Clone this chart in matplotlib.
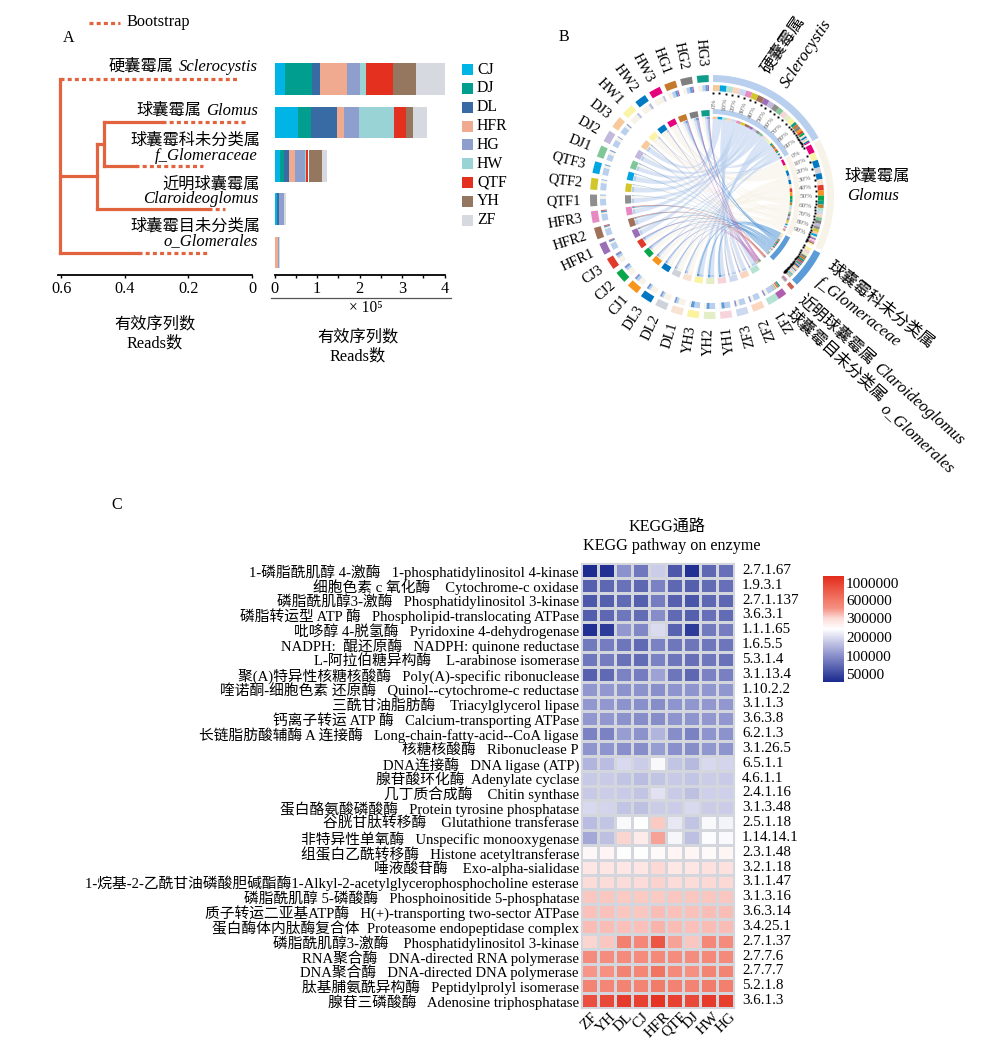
#!/usr/bin/env python3

import numpy as np
import matplotlib
matplotlib.use('Agg')
import matplotlib.pyplot as plt
from matplotlib.colors import FuncNorm, LinearSegmentedColormap
from matplotlib.patches import PathPatch
from matplotlib.path import Path

plt.rcParams['font.family'] = ['Liberation Serif', 'Noto Sans CJK SC']
plt.rcParams['axes.unicode_minus'] = False

# panel A
groups = ['CJ', 'DJ', 'DL', 'HFR', 'HG', 'HW', 'QTF', 'YH', 'ZF']
group_colors = ['#00b4e6', '#009e8e', '#386ba3', '#f0aa90', '#8f9fcd',
                '#99d3d6', '#e4301f', '#957760', '#d6d9e0']
# reads / 1e5, rows follow the genera top to bottom
reads_scl = [0.245, 0.63, 0.19, 0.645, 0.30, 0.14, 0.645, 0.545, 0.69]
reads_glo = [0.55, 0.30, 0.62, 0.16, 0.36, 0.83, 0.27, 0.165, 0.33]
reads_fgl = [0.14, 0.08, 0.13, 0.14, 0.22, 0.02, 0.07, 0.315, 0.12]
reads_cla = [0.05, 0.02, 0.03, 0.005, 0.11, 0.015, 0.0, 0.005, 0.045]
reads_ogl = [0.005, 0.0, 0.0, 0.08, 0.01, 0.02, 0.0, 0.0, 0.015]

# tree branches: (distance start, distance end, row) solid and dotted parts
tree_solid = [(0.605, 0.487, 2.23), (0.487, 0.465, 1.5), (0.465, 0.282, 1.0),
              (0.465, 0.368, 2.0), (0.487, 0.138, 3.0), (0.605, 0.358, 4.0)]
tree_dotted = [(0.605, 0.047, 0.0), (0.282, 0.012, 1.0), (0.368, 0.154, 2.0),
               (0.138, 0.085, 3.0), (0.358, 0.138, 4.0)]
tree_vertical = [(0.605, 0.0, 4.0), (0.487, 1.5, 3.0), (0.465, 1.0, 2.0)]

# panel B, samples clockwise-reversed from the top
samples = ['HG3', 'HG2', 'HG1', 'HW3', 'HW2', 'HW1', 'DJ3', 'DJ2', 'DJ1',
           'QTF3', 'QTF2', 'QTF1', 'HFR3', 'HFR2', 'HFR1', 'CJ3', 'CJ2', 'CJ1',
           'DL3', 'DL2', 'DL1', 'YH3', 'YH2', 'YH1', 'ZF3', 'ZF2', 'ZF1']
sample_colors = ['#0f9d8a', '#7f7f7f', '#c47a2c', '#e6007e', '#0079c2', '#fbf3a5',
                 '#f7c99b', '#c3b9dc', '#7fc797', '#00a5e3', '#d2c72a', '#8e8e8e',
                 '#e78ac3', '#a0705a', '#9b6fb8', '#df3a2c', '#0aa64b', '#f7941d',
                 '#0077c0', '#cfd2da', '#f8e2d2', '#fbf3a0', '#e3eec7', '#f7d3dc',
                 '#ccd9ee', '#fad5c0', '#b5e3d3']
# reads / 1e4 per sample
chord_scl = [1.0, 1.0, 1.0, 0.4, 0.5, 0.5, 2.4, 2.0, 1.9, 2.3, 2.2, 1.95, 2.2, 2.2,
             2.05, 0.8, 0.8, 0.85, 0.6, 0.6, 0.7, 1.8, 1.8, 1.85, 2.3, 2.3, 2.3]
chord_glo = [1.3, 1.1, 1.2, 3.0, 2.6, 2.7, 0.9, 1.0, 1.1, 0.8, 0.9, 1.0, 0.5, 0.5,
             0.6, 1.9, 1.8, 1.8, 2.1, 2.1, 2.0, 0.5, 0.6, 0.55, 1.1, 1.1, 1.1]
chord_fgl = [0.7, 0.8, 0.7, 0.05, 0.1, 0.05, 0.3, 0.2, 0.3, 0.3, 0.2, 0.2, 0.5, 0.4,
             0.5, 0.5, 0.5, 0.4, 0.5, 0.4, 0.4, 1.1, 1.0, 1.05, 0.4, 0.4, 0.4]
chord_ogl = [0.0, 0.05, 0.05, 0.05, 0.1, 0.05, 0.0, 0.0, 0.0, 0.0, 0.0, 0.0, 0.3, 0.3,
             0.2, 0.02, 0.02, 0.01, 0.0, 0.0, 0.0, 0.0, 0.0, 0.0, 0.05, 0.05, 0.05]
chord_cla = [0.4, 0.35, 0.35, 0.05, 0.05, 0.05, 0.1, 0.05, 0.05, 0.0, 0.0, 0.0, 0.02, 0.02,
             0.01, 0.2, 0.15, 0.15, 0.1, 0.1, 0.1, 0.02, 0.02, 0.01, 0.15, 0.15, 0.15]
genus_colors = ['#b9cfee', '#f8f3e8', '#5b9bd8', '#cd6155', '#b05fb0']
genus_start = [0.5, 62.0, 117.4, 137.5, 142.5]
percent_labels = ['0%', '10%', '20%', '30%', '40%', '50%', '60%', '70%', '80%', '90%']

# panel C
pathways = [
    '1-磷脂酰肌醇 4-激酶   1-phosphatidylinositol 4-kinase',
    '细胞色素 c 氧化酶    Cytochrome-c oxidase',
    '磷脂酰肌醇3-激酶   Phosphatidylinositol 3-kinase',
    '磷脂转运型 ATP 酶   Phospholipid-translocating ATPase',
    '吡哆醇 4-脱氢酶   Pyridoxine 4-dehydrogenase',
    'NADPH:  醌还原酶   NADPH: quinone reductase',
    'L-阿拉伯糖异构酶    L-arabinose isomerase',
    '聚(A)特异性核糖核酸酶   Poly(A)-specific ribonuclease',
    '喹诺酮-细胞色素 还原酶   Quinol--cytochrome-c reductase',
    '三酰甘油脂肪酶    Triacylglycerol lipase',
    '钙离子转运 ATP 酶   Calcium-transporting ATPase',
    '长链脂肪酸辅酶 A 连接酶   Long-chain-fatty-acid--CoA ligase',
    '核糖核酸酶   Ribonuclease P',
    'DNA连接酶   DNA ligase (ATP)',
    '腺苷酸环化酶  Adenylate cyclase',
    '几丁质合成酶    Chitin synthase',
    '蛋白酪氨酸磷酸酶   Protein tyrosine phosphatase',
    '谷胱甘肽转移酶    Glutathione transferase',
    '非特异性单氧酶   Unspecific monooxygenase',
    '组蛋白乙酰转移酶   Histone acetyltransferase',
    '唾液酸苷酶    Exo-alpha-sialidase',
    '1-烷基-2-乙酰甘油磷酸胆碱酯酶1-Alkyl-2-acetylglycerophosphocholine esterase',
    '磷脂酰肌醇 5-磷酸酶   Phosphoinositide 5-phosphatase',
    '质子转运二亚基ATP酶   H(+)-transporting two-sector ATPase',
    '蛋白酶体内肽酶复合体  Proteasome endopeptidase complex',
    '磷脂酰肌醇3-激酶    Phosphatidylinositol 3-kinase',
    'RNA聚合酶   DNA-directed RNA polymerase',
    'DNA聚合酶   DNA-directed DNA polymerase',
    '肽基脯氨酰异构酶   Peptidylprolyl isomerase',
    '腺苷三磷酸酶   Adenosine triphosphatase',
]
ec_numbers = ['2.7.1.67', '1.9.3.1', '2.7.1.137', '3.6.3.1', '1.1.1.65', '1.6.5.5',
              '5.3.1.4', '3.1.13.4', '1.10.2.2', '3.1.1.3', '3.6.3.8', '6.2.1.3',
              '3.1.26.5', '6.5.1.1', '4.6.1.1', '2.4.1.16', '3.1.3.48', '2.5.1.18',
              '1.14.14.1', '2.3.1.48', '3.2.1.18', '3.1.1.47', '3.1.3.16', '3.6.3.14',
              '3.4.25.1', '2.7.1.37', '2.7.7.6', '2.7.7.7', '5.2.1.8', '3.6.1.3']
heat_columns = ['ZF', 'YH', 'DL', 'CJ', 'HFR', 'QTF', 'DJ', 'HW', 'HG']
# thousands of reads
heat_values = [
    [32, 35, 105, 85, 180, 62, 35, 72, 78],
    [68, 72, 80, 72, 92, 72, 66, 76, 78],
    [62, 66, 74, 66, 88, 68, 60, 72, 72],
    [65, 72, 84, 76, 100, 74, 66, 78, 76],
    [35, 42, 112, 95, 200, 70, 42, 86, 88],
    [86, 88, 82, 75, 92, 84, 82, 84, 82],
    [84, 88, 80, 76, 92, 82, 78, 84, 80],
    [68, 74, 92, 88, 125, 82, 72, 92, 90],
    [110, 112, 105, 105, 102, 108, 108, 110, 110],
    [112, 112, 105, 102, 100, 108, 110, 112, 112],
    [112, 112, 105, 100, 100, 108, 108, 112, 112],
    [92, 92, 118, 105, 150, 100, 92, 108, 105],
    [108, 108, 102, 100, 118, 104, 100, 110, 108],
    [150, 160, 195, 180, 235, 170, 155, 195, 190],
    [175, 178, 170, 160, 168, 175, 172, 180, 178],
    [175, 180, 178, 170, 205, 178, 165, 185, 185],
    [195, 190, 170, 165, 180, 180, 195, 180, 180],
    [160, 172, 238, 243, 340, 215, 170, 235, 228],
    [135, 165, 310, 275, 430, 232, 165, 240, 238],
    [255, 260, 245, 243, 250, 260, 258, 250, 258],
    [285, 285, 285, 285, 305, 280, 285, 290, 290],
    [300, 300, 300, 300, 320, 300, 300, 305, 305],
    [345, 345, 340, 340, 340, 345, 345, 345, 345],
    [360, 360, 350, 350, 370, 360, 360, 370, 370],
    [370, 365, 360, 360, 390, 370, 360, 370, 370],
    [310, 345, 560, 520, 850, 430, 350, 520, 490],
    [490, 480, 490, 490, 510, 480, 480, 510, 500],
    [460, 470, 540, 530, 640, 500, 470, 540, 540],
    [540, 530, 540, 540, 590, 550, 540, 590, 560],
    [900, 950, 1100, 1000, 1250, 1000, 950, 1100, 1050],
]
scale_ticks = [50000, 100000, 200000, 300000, 600000, 1000000]

W, H = 1000, 1050
TREE_COLOR = '#e2643f'
DOTS = (1.25, 1.0)
fig = plt.figure(figsize=(W / 100, H / 100), dpi=100)


def px_axes(left, top, right, bottom):
    return fig.add_axes([left / W, 1 - bottom / H, (right - left) / W, (bottom - top) / H])


# overlay in pixel coordinates for free text and the circular panel
over = fig.add_axes([0, 0, 1, 1])
over.set_xlim(0, W)
over.set_ylim(H, 0)
over.axis('off')

for letter, x, y in [('A', 69, 38), ('B', 564, 37), ('C', 117, 505)]:
    over.text(x, y, letter, fontsize=11.5, ha='center', va='center')

# ---- A: tree
tree = px_axes(58, 60, 252, 275)
tree.set_xlim(0.61, 0)
tree.set_ylim(4.516, -0.438)
for x0, x1, row in tree_solid:
    tree.plot([x0, x1], [row, row], color=TREE_COLOR, lw=2.3, solid_capstyle='projecting')
for x0, row0, row1 in tree_vertical:
    tree.plot([x0, x0], [row0, row1], color=TREE_COLOR, lw=2.3, solid_capstyle='projecting')
for x0, x1, row in tree_dotted:
    tree.plot([x0, x1], [row, row], color=TREE_COLOR, lw=2.3, dashes=DOTS, dash_capstyle='butt')
for side in ['top', 'left', 'right']:
    tree.spines[side].set_visible(False)
tree.spines['bottom'].set_linewidth(1.3)
tree.set_yticks([])
tree.set_xticks([0.6, 0.4, 0.2, 0])
tree.set_xticklabels(['0.6', '0.4', '0.2', '0'], fontsize=11.7)
tree.tick_params(axis='x', length=2.5, width=1, pad=1.5)
tree.patch.set_alpha(0)

over.plot([89, 120], [23, 23], color=TREE_COLOR, lw=2.3, dashes=DOTS, dash_capstyle='butt')
over.text(126, 22, 'Bootstrap', fontsize=11.7, va='center')

taxa = [('硬囊霉属', 174, 67), ('Sclerocystis', 258, 67), ('球囊霉属', 201, 111), ('Glomus', 258, 111),
        ('球囊霉科未分类属', 260, 141), ('f_Glomeraceae', 258, 156),
        ('近明球囊霉属', 260, 185), ('Claroideoglomus', 258, 199),
        ('球囊霉目未分类属', 260, 227), ('o_Glomerales', 258, 241)]
for label, x, y in taxa:
    if label.isascii():
        over.text(x, y, label, fontsize=12, ha='right', va='center', style='italic')
    else:
        over.text(x, y, label, fontsize=11.7, ha='right', va='center')

for x, y in [(155, 324), (358, 337)]:
    over.text(x, y, '有效序列数', fontsize=11.7, ha='center', va='center')
    over.text(x, y + 19, 'Reads数', fontsize=11.7, ha='center', va='center')

# ---- A: stacked bars
bars = px_axes(274.5, 60, 444.5, 275)
reads = np.array([reads_scl, reads_glo, reads_fgl, reads_cla, reads_ogl])
rows = np.arange(len(reads))
left = np.zeros(len(reads))
for j, group in enumerate(groups):
    bars.barh(rows, reads[:, j], height=0.726, left=left, color=group_colors[j])
    left += reads[:, j]
bars.set_xlim(0, 4)
bars.set_ylim(4.516, -0.438)
for side in ['top', 'left', 'right']:
    bars.spines[side].set_visible(False)
bars.spines['bottom'].set_linewidth(1.3)
bars.set_yticks([])
bars.set_xticks([0, 1, 2, 3, 4])
bars.set_xticks(np.arange(0.5, 4, 1), minor=True)
bars.tick_params(axis='x', which='both', length=2.5, width=1, pad=2, labelsize=11.7)
over.plot([271, 451], [298, 298], color='#555555', lw=0.9)
over.text(366, 308, '× 10⁵', fontsize=11.2, ha='center', va='center')

for j, group in enumerate(groups):
    y = 69.5 + 18.85 * j
    over.fill([462, 473, 473, 462], [y - 5.5, y - 5.5, y + 5.5, y + 5.5], color=group_colors[j], lw=0)
    over.text(477, y, group, fontsize=11.3, va='center')

# ---- B: chord diagram
CX, CY = 712, 197
R_BAND = (115, 122)
R_ROW2 = (106, 112)
R_DOT = 104
R_RING = (81, 87)
R_STRIPE = (78, 80.5)
R_CHORD = 78
DEG_PER_E4 = 1.5
SAMPLE_STEP = 7.93
SAMPLE_FIRST = -4.4
SAMPLE_WIDTH = 5.6


def polar(r, deg):
    t = np.radians(deg)
    return CX + r * np.sin(t), CY - r * np.cos(t)


def arc_block(r0, r1, d0, d1, color, zorder=3):
    t = np.linspace(d0, d1, max(3, int(abs(d1 - d0)) + 2))
    x0, y0 = polar(r0, t)
    x1, y1 = polar(r1, t[::-1])
    over.fill(np.r_[x0, x1], np.r_[y0, y1], color=color, lw=0, zorder=zorder)


def chord(a0, a1, b0, b1, color, alpha, zorder):
    ta = np.linspace(a0, a1, 5)
    tb = np.linspace(b0, b1, 5)
    xa, ya = polar(R_CHORD, ta)
    xb, yb = polar(R_CHORD, tb)
    verts = list(zip(xa, ya))
    codes = [Path.MOVETO] + [Path.LINETO] * 4
    verts += [(CX, CY), (xb[0], yb[0])]
    codes += [Path.CURVE3, Path.CURVE3]
    verts += list(zip(xb[1:], yb[1:]))
    codes += [Path.LINETO] * 4
    verts += [(CX, CY), (xa[0], ya[0])]
    codes += [Path.CURVE3, Path.CURVE3]
    over.add_patch(PathPatch(Path(verts, codes), facecolor=color, edgecolor='none',
                             alpha=alpha, zorder=zorder))


matrix = np.array([chord_scl, chord_glo, chord_fgl, chord_ogl, chord_cla])
totals = matrix.sum(axis=0)
centers = SAMPLE_FIRST - SAMPLE_STEP * np.arange(len(samples))
chord_styles = [(0.55, 2.1), (0.6, 2.0), (0.6, 2.3), (0.75, 2.5), (0.75, 2.6)]

for i, name in enumerate(samples):
    d0 = centers[i] - SAMPLE_WIDTH / 2
    d1 = centers[i] + SAMPLE_WIDTH / 2
    arc_block(R_BAND[0], R_BAND[1], d0, d1, sample_colors[i])
    arc_block(R_RING[0], R_RING[1], d0, d1, sample_colors[i])
    x, y = polar(131, centers[i])
    over.text(x, y, name, fontsize=10.4, ha='right', va='center',
              rotation=-90 - centers[i], rotation_mode='anchor')

genus_edges = []
for g in range(len(matrix)):
    width = matrix[g].sum() * DEG_PER_E4
    arc_block(R_BAND[0], R_BAND[1], genus_start[g], genus_start[g] + width, genus_colors[g])
    if g < 3:
        arc_block(R_RING[0] + 2, R_RING[1] + 1, genus_start[g], genus_start[g] + width, genus_colors[g])
    cursor = genus_start[g]
    edges = {}
    for i in np.argsort(-matrix[g]):
        step = matrix[g][i] * DEG_PER_E4
        if step == 0:
            continue
        arc_block(R_ROW2[0], R_ROW2[1], cursor, cursor + step, sample_colors[i])
        arc_block(R_STRIPE[0], R_STRIPE[1], cursor, cursor + step, sample_colors[i])
        if g < 3:
            dx, dy = polar(R_DOT, cursor)
            over.plot(dx, dy, 's', color='black', ms=1.4, mew=0, zorder=4)
        edges[i] = (cursor, cursor + step)
        cursor += step
    genus_edges.append(edges)
    if g < 2:
        for k, label in enumerate(percent_labels):
            deg = genus_start[g] + width * k / 10
            px, py = polar(94, deg + 1)
            over.text(px, py, label, fontsize=5.2, color='#666666', ha='center', va='center',
                      rotation=90 - deg, rotation_mode='anchor')

# outer rows per sample, chords on the inner side
for i in range(len(samples)):
    cursor = centers[i] - SAMPLE_WIDTH / 2
    for g in np.argsort(-matrix[:, i]):
        step = matrix[g][i] / totals[i] * SAMPLE_WIDTH
        if step == 0:
            continue
        arc_block(R_ROW2[0], R_ROW2[1], cursor, cursor + step, genus_colors[g])
        arc_block(R_STRIPE[0], R_STRIPE[1], cursor, cursor + step, genus_colors[g])
        b0, b1 = genus_edges[g][i]
        alpha, zorder = chord_styles[g]
        chord(cursor, cursor + step, b0, b1, genus_colors[g], alpha, zorder)
        cursor += step

over.text(783, 45, '硬囊霉属', fontsize=11.8, rotation=56, ha='center', va='center')
over.text(806, 54, 'Sclerocystis', fontsize=12, style='italic', rotation=56, ha='center', va='center')
over.text(877, 177, '球囊霉属', fontsize=11.8, ha='center', va='center')
over.text(873, 196, 'Glomus', fontsize=12, style='italic', ha='center', va='center')
over.text(880, 305, '球囊霉科未分类属', fontsize=11.8, rotation=-38, ha='center', va='center')
over.text(858, 312, 'f_Glomeraceae', fontsize=12, style='italic', rotation=-38, ha='center', va='center')
over.text(800, 298, '近明球囊霉属', fontsize=11.6, rotation=-41.5, ha='left', va='center', rotation_mode='anchor')
over.text(875, 366, 'Claroideoglomus', fontsize=12, style='italic', rotation=-41.5, ha='left', va='center',
          rotation_mode='anchor')
over.text(788, 312, '球囊霉目未分类属', fontsize=11.6, rotation=-42.5, ha='left', va='center', rotation_mode='anchor')
over.text(882, 407, 'o_Glomerales', fontsize=12, style='italic', rotation=-42.5, ha='left', va='center',
          rotation_mode='anchor')

# ---- C: heatmap
knots = [30000, 50000, 100000, 200000, 300000, 600000, 1000000, 1400000]
knot_pos = [0, 0.075, 0.245, 0.425, 0.60, 0.77, 0.934, 1]
norm = FuncNorm((lambda v: np.interp(v, knots, knot_pos), lambda p: np.interp(p, knot_pos, knots)),
                vmin=knots[0], vmax=knots[-1])
cmap = LinearSegmentedColormap.from_list('reads', [
    (0, '#1a2a8e'), (0.25, '#8a90cb'), (0.425, '#dcdcf0'), (0.5, '#ffffff'),
    (0.6, '#fcdcd8'), (0.7, '#f58e80'), (0.77, '#f27a68'), (1, '#e32b1c')])

heat = px_axes(581, 563, 734, 1008)
mesh = heat.pcolormesh(np.array(heat_values) * 1000, cmap=cmap, norm=norm,
                       edgecolors='#d3d6dc', linewidth=1.0)
heat.set_ylim(len(pathways), 0)
heat.set_yticks(np.arange(len(pathways)) + 0.5)
heat.set_yticklabels(pathways, fontsize=10.6)
heat.set_xticks(np.arange(len(heat_columns)) + 0.5)
heat.set_xticklabels(heat_columns, fontsize=11, rotation=45, ha='center', va='top')
heat.tick_params(length=0, pad=1.5)
for side in heat.spines.values():
    side.set_color('#d3d6dc')
for i, ec in enumerate(ec_numbers):
    heat.text(9.47, i + 0.5, ec, fontsize=10.8, va='center', clip_on=False)

over.text(667, 527, 'KEGG通路', fontsize=11.6, ha='center', va='center')
over.text(672, 546, 'KEGG pathway on enzyme', fontsize=11.6, ha='center', va='center')

cax = px_axes(823, 576, 844, 682)
cb = fig.colorbar(mesh, cax=cax)
cb.set_ticks(scale_ticks, labels=[str(v) for v in scale_ticks])
cb.ax.minorticks_off()
cb.ax.tick_params(length=0, pad=1.5, labelsize=11)
cb.outline.set_visible(False)

fig.savefig('out.png', dpi=100)
